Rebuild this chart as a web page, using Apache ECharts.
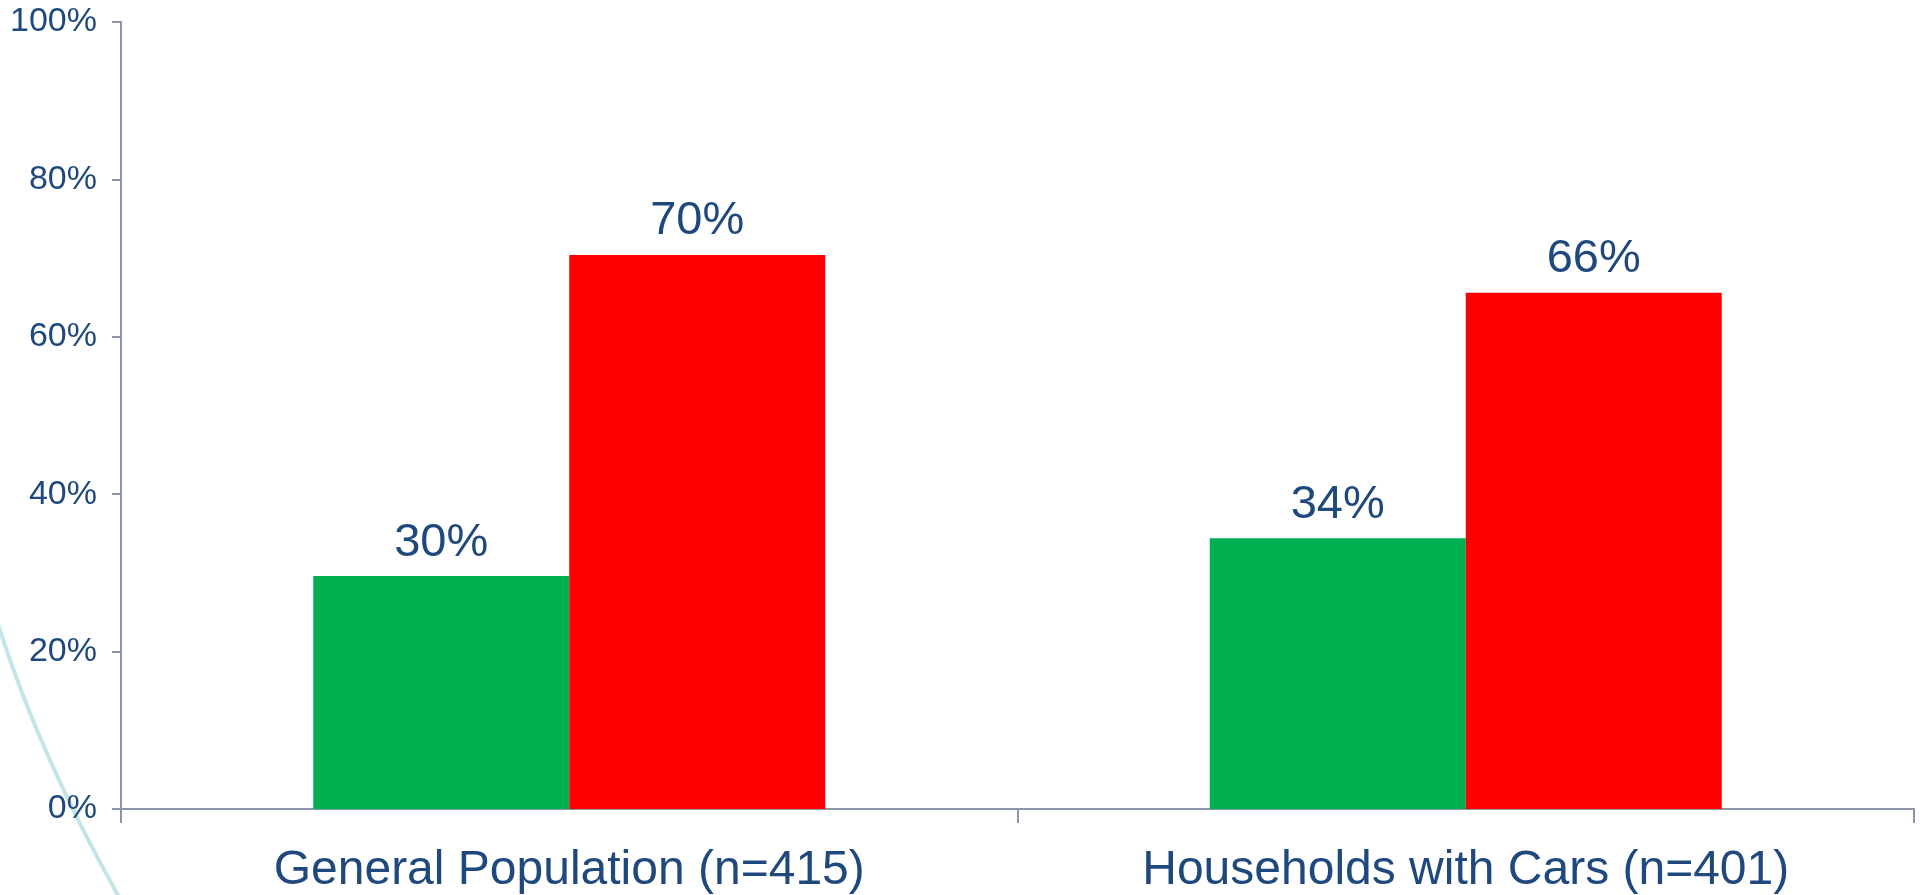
<!DOCTYPE html>
<html>
<head>
<meta charset="utf-8">
<title>Bar chart</title>
<script src="https://cdn.jsdelivr.net/npm/echarts@6/dist/echarts.min.js"></script>
<style>
  html, body { margin: 0; padding: 0; background: #fff; }
  #chart { width: 1921px; height: 895px; }
</style>
</head>
<body>
<div id="chart"></div>
<script>
// data
const categories = ['General Population (n=415)', 'Households with Cars (n=401)'];
const greenValues = [29.6, 34.4];
const redValues = [70.4, 65.6];
const yMin = 0;
const yMax = 100;
const yStep = 20;

const textColor = '#1F497D';
const axisColor = '#8A93A8';
const font = "'Liberation Sans', Arial, sans-serif";

const chart = echarts.init(document.getElementById('chart'));

// label above each bar, rounded to a whole percent
const barLabel = {
  show: true,
  position: 'top',
  distance: 10,
  color: textColor,
  fontFamily: font,
  fontSize: 47,
  formatter: p => Math.round(p.value) + '%'
};

chart.setOption({
  animation: false,
  grid: { left: 121, right: 7, top: 22, bottom: 85 },
  xAxis: {
    type: 'category',
    data: categories,
    axisLine: { lineStyle: { color: axisColor, width: 2 } },
    axisTick: { show: true, length: 14, lineStyle: { color: axisColor, width: 2 } },
    axisLabel: { color: textColor, fontFamily: font, fontSize: 48, margin: 38 }
  },
  yAxis: {
    type: 'value',
    min: yMin,
    max: yMax,
    interval: yStep,
    splitLine: { show: false },
    axisLine: { show: true, lineStyle: { color: axisColor, width: 2 } },
    axisTick: { show: true, length: 9, lineStyle: { color: axisColor, width: 2 } },
    axisLabel: { color: textColor, fontFamily: font, fontSize: 34, margin: 24, formatter: '{value}%' }
  },
  series: [
    {
      name: 'Green',
      type: 'bar',
      data: greenValues,
      barWidth: 256,
      barGap: '0%',
      itemStyle: { color: '#00B050' },
      label: barLabel
    },
    {
      name: 'Red',
      type: 'bar',
      data: redValues,
      barWidth: 256,
      itemStyle: { color: '#FF0000' },
      label: barLabel
    }
  ],
  // faint decorative arc in the bottom-left corner
  graphic: [{
    type: 'bezierCurve',
    z: -1,
    shape: { x1: -4, y1: 618, cpx1: 38, cpy1: 753, x2: 119, y2: 897 },
    style: { stroke: '#C4E5E5', lineWidth: 4, fill: null }
  }]
});
</script>
</body>
</html>
